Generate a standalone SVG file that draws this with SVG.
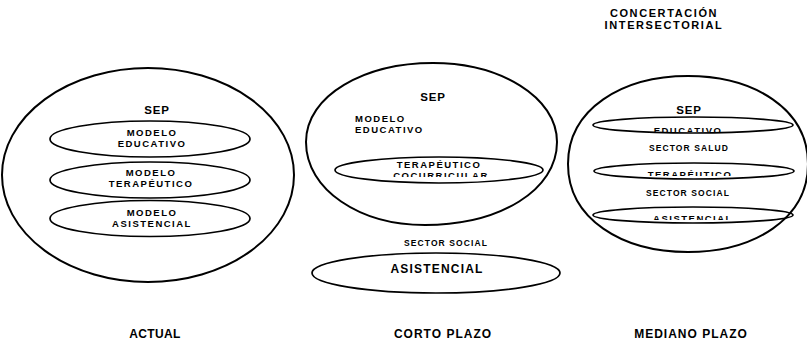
<svg xmlns="http://www.w3.org/2000/svg" width="807" height="343" viewBox="0 0 807 343">
<style>
text{font-family:"Liberation Sans",Arial,Helvetica,sans-serif;font-weight:bold;fill:#000;text-anchor:middle}
.big{fill:none;stroke:#000;stroke-width:2}
.in{fill:none;stroke:#000;stroke-width:1.7}
.lbl{font-size:9.5px;letter-spacing:1.5px}
.sep{font-size:11.5px;letter-spacing:0.8px}
.sm{font-size:8.5px;letter-spacing:1.1px}
.ttl{font-size:12px;letter-spacing:1px}
.hd{font-size:11px;letter-spacing:1.6px}
</style>
<defs>
<clipPath id="cpA"><rect x="0" y="0" width="807" height="177"/></clipPath>
<clipPath id="cpB"><rect x="0" y="0" width="807" height="132"/></clipPath>
<clipPath id="cpC"><rect x="0" y="0" width="807" height="176"/></clipPath>
<clipPath id="cpD"><rect x="0" y="0" width="807" height="220"/></clipPath>
</defs>
<rect width="807" height="343" fill="#fff"/>

<g id="actual">
<ellipse class="big" cx="148" cy="175" rx="146" ry="107"/>
<text class="sep" x="157" y="114">SEP</text>
</g>
<g id="actual-educativo">
<ellipse class="in" cx="150" cy="139" rx="100" ry="18"/>
<text class="lbl" x="152" y="135.5">MODELO</text>
<text class="lbl" x="152" y="146.5">EDUCATIVO</text>
</g>
<g id="actual-terapeutico">
<ellipse class="in" cx="150" cy="180" rx="100" ry="18"/>
<text class="lbl" x="151" y="175.5">MODELO</text>
<text class="lbl" x="151" y="186.5">TERAPÉUTICO</text>
</g>
<g id="actual-asistencial">
<ellipse class="in" cx="150" cy="218.5" rx="100" ry="18"/>
<text class="lbl" x="152" y="215.5">MODELO</text>
<text class="lbl" x="152" y="226.5">ASISTENCIAL</text>
</g>
<text class="ttl" x="155" y="338" style="letter-spacing:0.4px">ACTUAL</text>

<g id="corto">
<path class="big" d="M306,142 C306,95 365,63 433,63 C500,63 557,97 557,142 C557,190 500,225 425,225 C360,225 306,190 306,142 Z"/>
<text class="sep" x="433" y="101">SEP</text>
<text class="lbl" x="355" y="121.5" style="text-anchor:start">MODELO</text>
<text class="lbl" x="355" y="132.5" style="text-anchor:start">EDUCATIVO</text>
</g>
<g id="corto-terapeutico">
<ellipse class="in" cx="439" cy="170" rx="104" ry="13"/>
<text class="lbl" x="439" y="168">TERAPÉUTICO</text>
<text class="lbl" x="441" y="179" clip-path="url(#cpA)">COCURRICULAR</text>
</g>
<g id="corto-asistencial">
<text class="sm" x="446" y="246">SECTOR SOCIAL</text>
<ellipse class="in" cx="436" cy="273" rx="124" ry="20"/>
<text class="ttl" x="437" y="273" style="letter-spacing:1.2px">ASISTENCIAL</text>
</g>
<text class="ttl" x="443" y="338">CORTO PLAZO</text>

<g id="mediano">
<text class="hd" x="664" y="17">CONCERTACIÓN</text>
<text class="hd" x="664" y="29">INTERSECTORIAL</text>
<path class="big" d="M568,164 C568,109 622,76 688,76 C754,76 808,109 808,164 C808,219 754,252 688,252 C622,252 568,219 568,164 Z"/>
<text class="sep" x="689" y="114">SEP</text>
<text class="sm" x="689" y="151">SECTOR SALUD</text>
<text class="sm" x="688" y="196">SECTOR SOCIAL</text>
</g>
<g id="mediano-educativo">
<ellipse class="in" cx="693" cy="125" rx="100" ry="8"/>
<text class="lbl" x="688" y="134" clip-path="url(#cpB)">EDUCATIVO</text>
</g>
<g id="mediano-terapeutico">
<ellipse class="in" cx="694" cy="171" rx="100" ry="8"/>
<text class="lbl" x="690" y="178" clip-path="url(#cpC)">TERAPÉUTICO</text>
</g>
<g id="mediano-asistencial">
<ellipse class="in" cx="693" cy="215" rx="100" ry="8"/>
<text class="lbl" x="693" y="222" clip-path="url(#cpD)">ASISTENCIAL</text>
</g>
<text class="ttl" x="691" y="338">MEDIANO PLAZO</text>
</svg>
